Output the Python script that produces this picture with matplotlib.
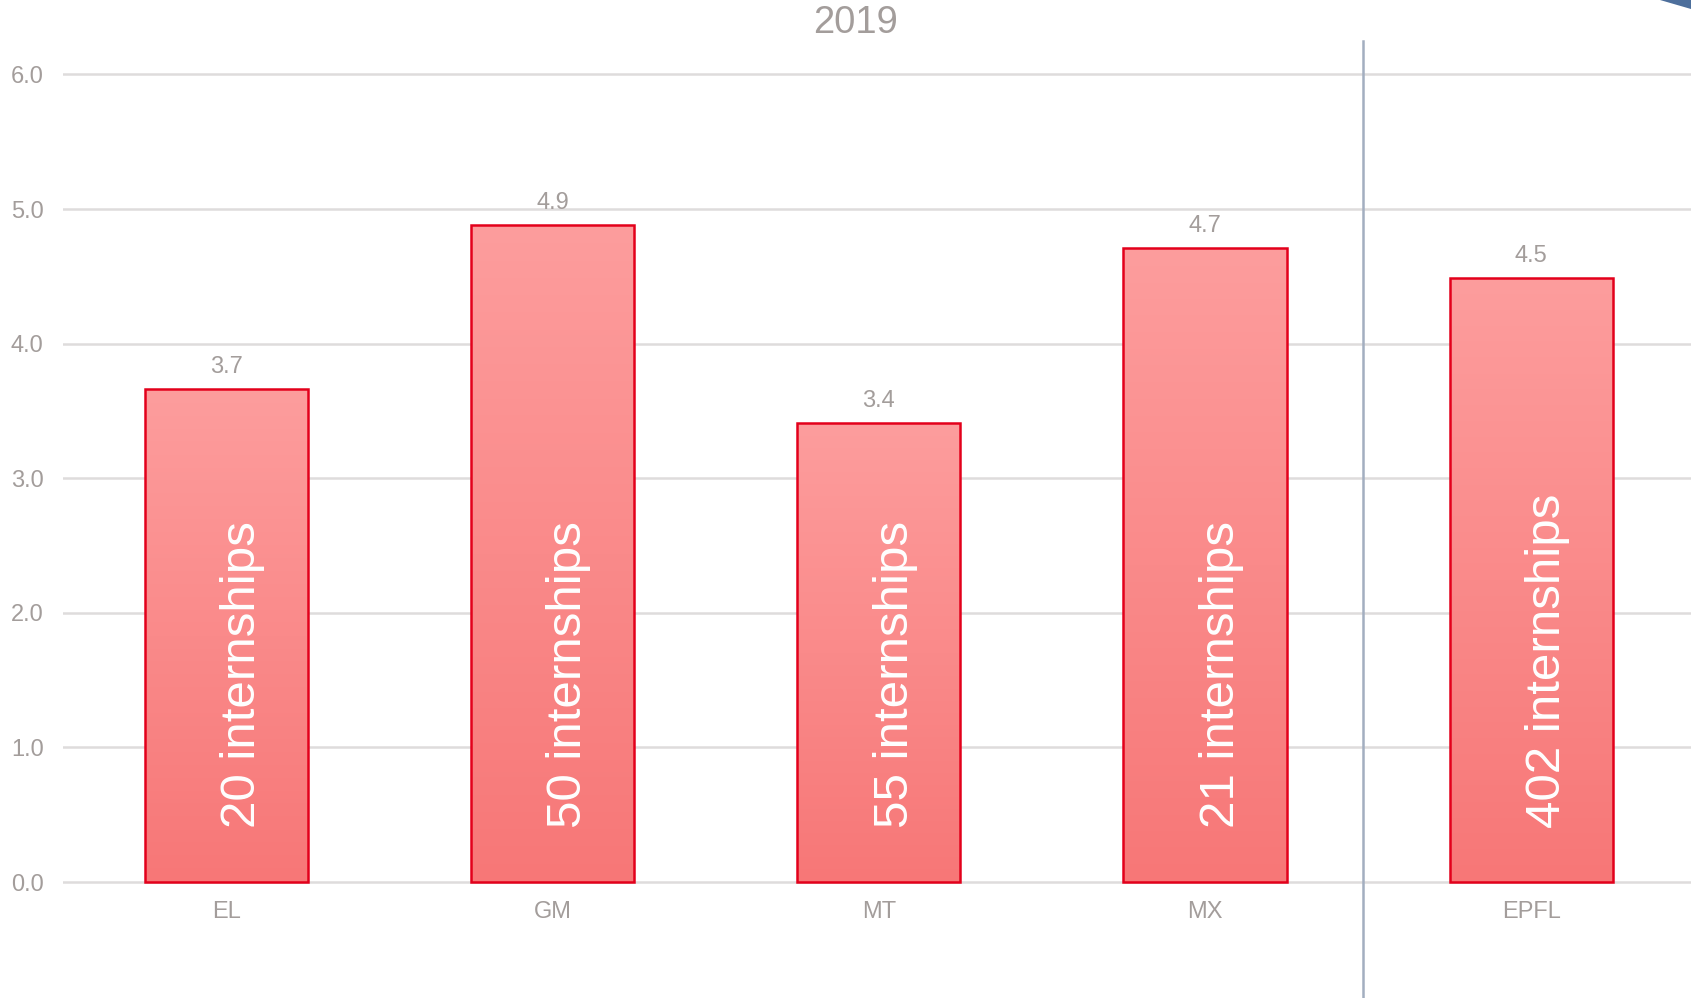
import numpy as np
import matplotlib.pyplot as plt
from matplotlib.colors import LinearSegmentedColormap
from matplotlib.patches import Polygon

plt.rcParams['font.family'] = ['Liberation Sans', 'DejaVu Sans']

categories = ['EL', 'GM', 'MT', 'MX', 'EPFL']
scores = [3.66, 4.88, 3.41, 4.71, 4.49]
internships = [20, 50, 55, 21, 402]
yticks = [0.0, 1.0, 2.0, 3.0, 4.0, 5.0, 6.0]

grey = '#a39d9b'
fig = plt.figure(figsize=(16.91, 9.98), dpi=100)
ax = fig.add_axes([63 / 1691, 0.1135, 1 - 63 / 1691 + 0.002, 0.8146])

x = np.arange(len(categories))
bars = ax.bar(x, scores, width=0.5, color='none', edgecolor='#e3001b', linewidth=1.8, zorder=3)

# vertical gradient inside each bar
cmap = LinearSegmentedColormap.from_list('g', ['#f77777', '#fd9d9d'])
grad = np.linspace(0, 1, 256).reshape(-1, 1)
for b in bars:
    x0, w, h = b.get_x(), b.get_width(), b.get_height()
    im = ax.imshow(grad, cmap=cmap, origin='lower', aspect='auto',
                   extent=[x0, x0 + w, 0, h], zorder=2)
    im.set_clip_path(b)

for xi, s, n in zip(x, scores, internships):
    ax.annotate(f'{s:.1f}', (xi, s), xytext=(0, 22), textcoords='offset pixels',
                ha='center', va='center', fontsize=17, color=grey)
    ax.text(xi + 0.05, 0.4, f'{n} internships', rotation=90, ha='center', va='bottom',
            fontsize=35.5, color='white', zorder=4)

ax.set_xlim(-0.5, 4.5)
ax.set_ylim(-0.02, 6.02)
ax.set_yticks(yticks)
ax.set_yticklabels([f'{t:.1f}' for t in yticks])
ax.set_xticks(x)
ax.set_xticklabels(categories)
ax.tick_params(length=0, labelsize=17, labelcolor=grey)
ax.tick_params(axis='y', pad=14)
ax.tick_params(axis='x', pad=12)
ax.grid(axis='y', color='#dedcdc', linewidth=1.8, zorder=0)
ax.set_axisbelow(True)
for sp in ax.spines.values():
    sp.set_visible(False)

ax.plot([3.485, 3.485], [-0.87, 6.25], color='#a3aec0', linewidth=1.8, clip_on=False, zorder=1)

fig.text(856 / 1691, 1 - 23 / 998, '2019', ha='center', va='center', fontsize=27.5, color=grey)

# bit of a blue shape cut off in the top right corner
fig.patches.append(Polygon([(1660 / 1691, 1.0), (1.0, 1.0), (1.0, 1 - 9 / 998)],
                           closed=True, transform=fig.transFigure, color='#4d6f9c', lw=0))

fig.savefig('out.png', dpi=100)
